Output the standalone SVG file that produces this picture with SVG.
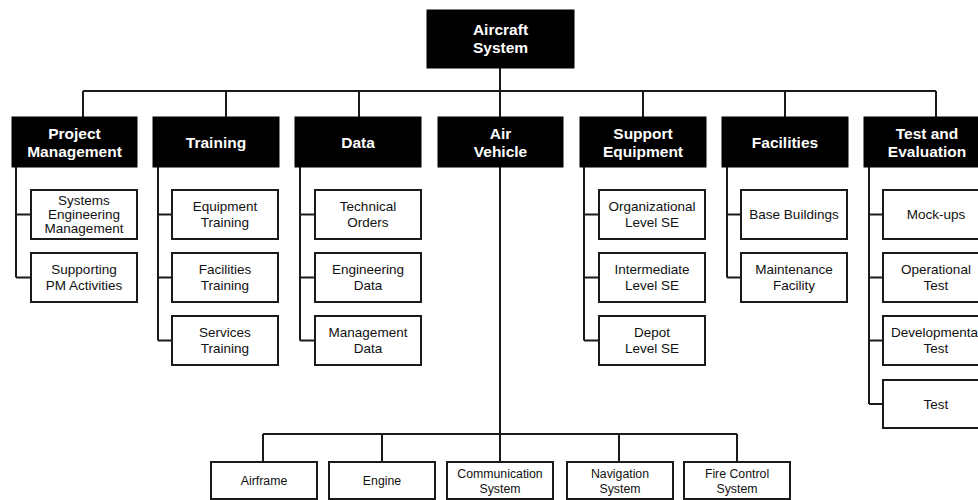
<svg xmlns="http://www.w3.org/2000/svg" width="978" height="500" viewBox="0 0 978 500">
<style>
.hb{fill:#000;stroke:#000;stroke-width:1}
.cb{fill:#fff;stroke:#1a1a1a;stroke-width:2}
.ht{font-family:"Liberation Sans",Arial,sans-serif;font-weight:bold;font-size:15.5px;fill:#fff;text-anchor:middle}
.ct{font-family:"Liberation Sans",Arial,sans-serif;font-size:13.5px;fill:#111;text-anchor:middle}
.bt{font-family:"Liberation Sans",Arial,sans-serif;font-size:12.3px;fill:#111;text-anchor:middle}
.ln{fill:none;stroke:#1a1a1a;stroke-width:2}
</style>
<rect width="978" height="500" fill="#fff"/>
<g id="connectors" class="ln">
<path d="M500 68V91M83 91H936M83 91V117M226 91V117M359 91V117M500 91V117M643 91V117M785 91V117M936 91V117"/>
<path d="M16 167V277.5M16 214.5H31M16 277.5H31"/>
<path d="M158 167V340.5M158 214.5H172M158 277.5H172M158 340.5H172"/>
<path d="M300 167V340.5M300 214.5H315M300 277.5H315M300 340.5H315"/>
<path d="M584 167V340.5M584 214.5H599M584 277.5H599M584 340.5H599"/>
<path d="M727 167V277.5M727 214.5H741M727 277.5H741"/>
<path d="M869 167V404M869 214.5H883M869 277.5H883M869 340.5H883M869 404H883"/>
<path d="M500 167V434M263 434H737M263 434V462M382 434V462M500 434V462M619 434V462M737 434V462"/>
</g>
<g id="aircraft-system"><rect class="hb" x="427" y="10" width="147" height="58"/><text class="ht" x="500.5" y="35">Aircraft</text><text class="ht" x="500.5" y="53">System</text></g>
<g id="project-management"><rect class="hb" x="12" y="117" width="125" height="50"/><text class="ht" x="74.5" y="139">Project</text><text class="ht" x="74.5" y="157">Management</text></g>
<g id="training"><rect class="hb" x="153" y="117" width="126" height="50"/><text class="ht" x="216" y="147.5">Training</text></g>
<g id="data"><rect class="hb" x="295" y="117" width="126" height="50"/><text class="ht" x="358" y="147.5">Data</text></g>
<g id="air-vehicle"><rect class="hb" x="438" y="117" width="125" height="50"/><text class="ht" x="500.5" y="139">Air</text><text class="ht" x="500.5" y="157">Vehicle</text></g>
<g id="support-equipment"><rect class="hb" x="580" y="117" width="126" height="50"/><text class="ht" x="643" y="139">Support</text><text class="ht" x="643" y="157">Equipment</text></g>
<g id="facilities"><rect class="hb" x="722" y="117" width="126" height="50"/><text class="ht" x="785" y="147.5">Facilities</text></g>
<g id="test-evaluation"><rect class="hb" x="864" y="117" width="126" height="50"/><text class="ht" x="927" y="139">Test and</text><text class="ht" x="927" y="157">Evaluation</text></g>

<g id="systems-engineering-management"><rect class="cb" x="31" y="190" width="106" height="49"/><text class="ct" x="84" y="205">Systems</text><text class="ct" x="84" y="219">Engineering</text><text class="ct" x="84" y="233">Management</text></g>
<g id="supporting-pm"><rect class="cb" x="31" y="253" width="106" height="49"/><text class="ct" x="84" y="273.5">Supporting</text><text class="ct" x="84" y="289.5">PM Activities</text></g>

<g id="equipment-training"><rect class="cb" x="172" y="190" width="106" height="49"/><text class="ct" x="225" y="210.5">Equipment</text><text class="ct" x="225" y="226.5">Training</text></g>
<g id="facilities-training"><rect class="cb" x="172" y="253" width="106" height="49"/><text class="ct" x="225" y="273.5">Facilities</text><text class="ct" x="225" y="289.5">Training</text></g>
<g id="services-training"><rect class="cb" x="172" y="316" width="106" height="49"/><text class="ct" x="225" y="336.5">Services</text><text class="ct" x="225" y="352.5">Training</text></g>

<g id="technical-orders"><rect class="cb" x="315" y="190" width="106" height="49"/><text class="ct" x="368" y="210.5">Technical</text><text class="ct" x="368" y="226.5">Orders</text></g>
<g id="engineering-data"><rect class="cb" x="315" y="253" width="106" height="49"/><text class="ct" x="368" y="273.5">Engineering</text><text class="ct" x="368" y="289.5">Data</text></g>
<g id="management-data"><rect class="cb" x="315" y="316" width="106" height="49"/><text class="ct" x="368" y="336.5">Management</text><text class="ct" x="368" y="352.5">Data</text></g>

<g id="organizational-se"><rect class="cb" x="599" y="190" width="106" height="49"/><text class="ct" x="652" y="210.5">Organizational</text><text class="ct" x="652" y="226.5">Level SE</text></g>
<g id="intermediate-se"><rect class="cb" x="599" y="253" width="106" height="49"/><text class="ct" x="652" y="273.5">Intermediate</text><text class="ct" x="652" y="289.5">Level SE</text></g>
<g id="depot-se"><rect class="cb" x="599" y="316" width="106" height="49"/><text class="ct" x="652" y="336.5">Depot</text><text class="ct" x="652" y="352.5">Level SE</text></g>

<g id="base-buildings"><rect class="cb" x="741" y="190" width="106" height="49"/><text class="ct" x="794" y="219">Base Buildings</text></g>
<g id="maintenance-facility"><rect class="cb" x="741" y="253" width="106" height="49"/><text class="ct" x="794" y="273.5">Maintenance</text><text class="ct" x="794" y="289.5">Facility</text></g>

<g id="mock-ups"><rect class="cb" x="883" y="190" width="106" height="49"/><text class="ct" x="936" y="219">Mock-ups</text></g>
<g id="operational-test"><rect class="cb" x="883" y="253" width="106" height="49"/><text class="ct" x="936" y="273.5">Operational</text><text class="ct" x="936" y="289.5">Test</text></g>
<g id="developmental-test"><rect class="cb" x="883" y="316" width="106" height="49"/><text class="ct" x="936" y="336.5">Developmental</text><text class="ct" x="936" y="352.5">Test</text></g>
<g id="test"><rect class="cb" x="883" y="380" width="106" height="48"/><text class="ct" x="936" y="408.5">Test</text></g>

<g id="airframe"><rect class="cb" x="211" y="462" width="106" height="37"/><text class="bt" x="264" y="485">Airframe</text></g>
<g id="engine"><rect class="cb" x="329" y="462" width="106" height="37"/><text class="bt" x="382" y="485">Engine</text></g>
<g id="communication-system"><rect class="cb" x="447" y="462" width="106" height="37"/><text class="bt" x="500" y="478">Communication</text><text class="bt" x="500" y="493">System</text></g>
<g id="navigation-system"><rect class="cb" x="567" y="462" width="106" height="37"/><text class="bt" x="620" y="478">Navigation</text><text class="bt" x="620" y="493">System</text></g>
<g id="fire-control-system"><rect class="cb" x="684" y="462" width="106" height="37"/><text class="bt" x="737" y="478">Fire Control</text><text class="bt" x="737" y="493">System</text></g>
</svg>
